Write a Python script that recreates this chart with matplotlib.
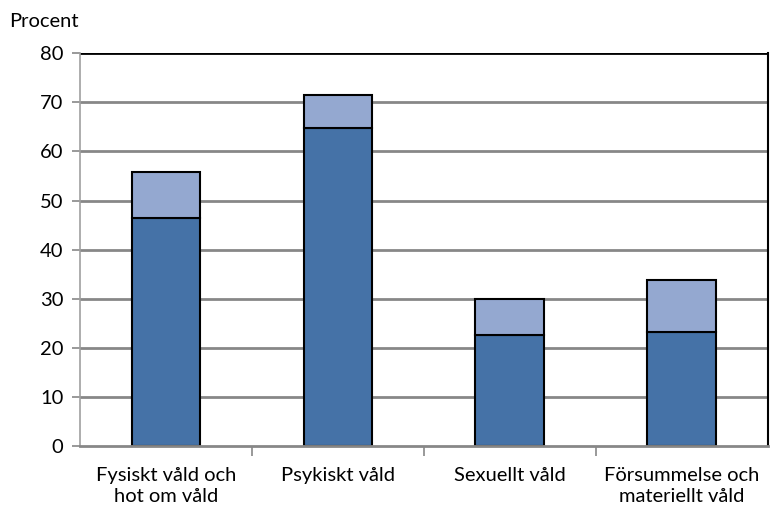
import matplotlib
matplotlib.use("Agg")
import matplotlib.pyplot as plt
import numpy as np

categories = ["Fysiskt våld och\nhot om våld", "Psykiskt våld", "Sexuellt våld", "Försummelse och\nmateriellt våld"]
dark_vals = [46.5, 64.8, 22.6, 23.2]
light_vals = [9.3, 6.7, 7.3, 10.6]
yticks = [0, 10, 20, 30, 40, 50, 60, 70, 80]

plt.rcParams['font.family'] = ['Lato', 'DejaVu Sans']

fig = plt.figure(figsize=(7.7, 5.11), dpi=100)
ax = fig.add_axes([0.104, 0.127, 0.893, 0.769])

x = np.arange(len(categories))
ax.set_axisbelow(True)
for y in yticks[1:-1]:
    ax.axhline(y, color='#878787', lw=2.0, zorder=0)
ax.axhline(80, color='black', lw=2.0, zorder=0)

ax.bar(x, dark_vals, width=0.4, color='#4572A7', edgecolor='black', linewidth=1.5, zorder=2)
ax.bar(x, light_vals, width=0.4, bottom=dark_vals, color='#94A8D0', edgecolor='black', linewidth=1.5, zorder=2)

ax.set_xlim(-0.5, 3.5)
ax.set_ylim(0, 80)
ax.set_yticks(yticks)
ax.tick_params(axis='y', labelsize=14.5, length=6, width=1.2, color='#878787', pad=6)
ax.set_xticks(x)
ax.set_xticklabels(categories, fontsize=14.5, linespacing=1.3)
ax.tick_params(axis='x', length=0, pad=15)
ax.set_xticks([0.5, 1.5, 2.5], minor=True)
ax.tick_params(axis='x', which='minor', length=7, width=1.2, color='#878787')

ax.spines['top'].set_visible(False)
ax.spines['right'].set_color('black')
ax.spines['right'].set_linewidth(1.5)
ax.spines['left'].set_color('#A0A0A0')
ax.spines['left'].set_linewidth(1.2)
ax.spines['bottom'].set_color('#878787')
ax.spines['bottom'].set_linewidth(2.0)

fig.text(0.012, 0.958, "Procent", fontsize=14.5, ha='left', va='center')

fig.savefig("out.png", dpi=100)
